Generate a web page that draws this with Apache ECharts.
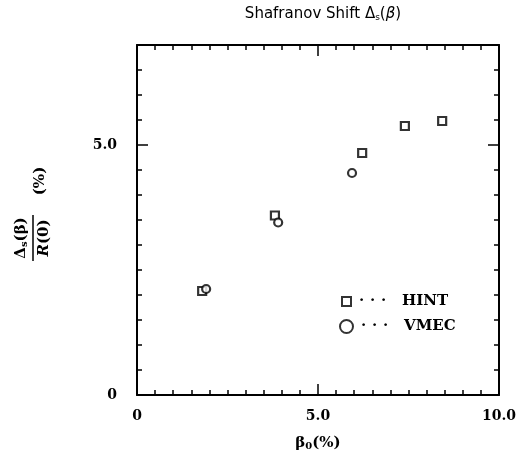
<!DOCTYPE html>
<html><head><meta charset="utf-8">
<script src="https://cdn.jsdelivr.net/npm/echarts@6/dist/echarts.min.js"></script>
<style>html,body{margin:0;padding:0;background:#fff}#c{width:527px;height:457px}</style>
</head><body><div id="c"></div>
<script>
// Data
const hintBeta  = [1.80, 3.81, 6.22, 7.40, 8.43];
const hintShift = [2.08, 3.59, 4.84, 5.38, 5.48];
const vmecBeta  = [1.91, 3.90, 5.94];
const vmecShift = [2.12, 3.45, 4.44];
const xTickLabels = {0: '0', 5: '5.0', 10: '10.0'};
const yTickLabels = {0: '0', 5: '5.0'};

const SERIF = "'DejaVu Serif', 'Liberation Serif', serif";
const SANS = "'DejaVu Sans', 'Liberation Sans', sans-serif";

function xAx(pos, showLabel) {
  return {
    type: 'value', min: 0, max: 10, interval: 5, position: pos,
    axisLine: {show: true, onZero: false, lineStyle: {color: '#000', width: 2}},
    axisTick: {show: true, inside: true, length: 11, lineStyle: {color: '#000', width: 1.5}},
    minorTick: {show: true, splitNumber: 10, length: 5, lineStyle: {color: '#000', width: 1.5}},
    axisLabel: {show: showLabel, margin: 14, fontFamily: SERIF, fontWeight: 'bold', fontSize: 14, color: '#000',
      formatter: v => (xTickLabels[v] !== undefined ? xTickLabels[v] : '')},
    splitLine: {show: false}, minorSplitLine: {show: false},
    name: showLabel ? '{b|β}{s|0}{b|(%)}' : '', nameLocation: 'middle', nameGap: 40,
    nameTextStyle: {rich: {
      b: {fontFamily: SERIF, fontWeight: 'bold', fontSize: 15, color: '#000'},
      s: {fontFamily: SERIF, fontWeight: 'bold', fontSize: 10, color: '#000', verticalAlign: 'bottom', padding: [6, 0, 0, 0]}
    }}
  };
}
function yAx(pos, major, showLabel) {
  return {
    type: 'value', min: 0, max: 7, interval: major ? 5 : 0.5, position: pos,
    axisLine: {show: !major, onZero: false, lineStyle: {color: '#000', width: 2}},
    axisTick: {show: true, inside: true, length: major ? 11 : 5, lineStyle: {color: '#000', width: 1.5}},
    axisLabel: {show: showLabel, margin: 20, fontFamily: SERIF, fontWeight: 'bold', fontSize: 14, color: '#000',
      formatter: v => (yTickLabels[v] !== undefined ? yTickLabels[v] : '')},
    splitLine: {show: false}
  };
}

const chart = echarts.init(document.getElementById('c'), null, {renderer: 'canvas'});
const hintData = hintBeta.map((b, i) => [b, hintShift[i]]);
const vmecData = vmecBeta.map((b, i) => [b, vmecShift[i]]);

const legendRich = {
  d: {fontFamily: SERIF, fontWeight: 'bold', fontSize: 15, color: '#000', width: 11, align: 'center', lineHeight: 16},
  g: {width: 13},
  t: {fontFamily: SERIF, fontWeight: 'bold', fontSize: 15, color: '#000', lineHeight: 16}
};

chart.setOption({
  animation: false,
  backgroundColor: '#fff',
  title: {
    text: '{a|Shafranov Shift Δ}{s|s}{a|(}{i|β}{a|)}',
    left: 318, top: 1, textAlign: 'center',
    textStyle: {fontWeight: 'normal', rich: {
      a: {fontFamily: SANS, fontSize: 15, fontWeight: 'normal', color: '#000'},
      i: {fontFamily: SANS, fontSize: 15, fontWeight: 'normal', fontStyle: 'italic', color: '#000'},
      s: {fontFamily: SANS, fontSize: 9, fontWeight: 'normal', color: '#000', verticalAlign: 'bottom', padding: [7, 0, 0, 0]}
    }}
  },
  grid: {left: 137, right: 28, top: 45, bottom: 62, containLabel: false},
  xAxis: [xAx('bottom', true), xAx('top', false)],
  yAxis: [yAx('left', false, false), yAx('left', true, true), yAx('right', false, false), yAx('right', true, false)],
  legend: [
    {data: [{name: 'HINT', icon: 'rect', itemStyle: {color: '#fff', borderColor: '#000', borderWidth: 2}}],
     left: 341, top: 294, padding: 0, itemWidth: 9, itemHeight: 9, selectedMode: false,
     formatter: '{d|·}{d|·}{d|·}{g|}{t|HINT}', textStyle: {rich: legendRich}},
    {data: [{name: 'VMEC', icon: 'circle', itemStyle: {color: '#fff', borderColor: '#000', borderWidth: 2}}],
     left: 339, top: 319, padding: 0, itemWidth: 13, itemHeight: 13, selectedMode: false,
     formatter: '{d|·}{d|·}{d|·}{g|}{t|VMEC}', textStyle: {rich: legendRich}}
  ],
  series: [
    {name: 'HINT', type: 'scatter', xAxisIndex: 0, yAxisIndex: 0, data: hintData,
     symbol: 'rect', symbolSize: 8, itemStyle: {color: '#fff', borderColor: '#000', borderWidth: 2.2}},
    {name: 'VMEC', type: 'scatter', xAxisIndex: 0, yAxisIndex: 0, data: vmecData,
     symbol: 'circle', symbolSize: 8, itemStyle: {color: '#fff', borderColor: '#000', borderWidth: 2.2}}
  ],
  graphic: [{
    type: 'group', x: 33, y: 238, rotation: Math.PI / 2,
    children: [
      {type: 'text', x: 0, y: -12, style: {
        text: '{a|Δ}{s|s}{a|(β)}', align: 'center', verticalAlign: 'middle',
        rich: {
          a: {fontFamily: SERIF, fontWeight: 'bold', fontSize: 15, fill: '#000'},
          s: {fontFamily: SERIF, fontWeight: 'bold', fontSize: 10, fill: '#000', verticalAlign: 'bottom', padding: [6, 0, 0, 0]}
        }}},
      {type: 'line', shape: {x1: -23, y1: 0, x2: 23, y2: 0}, style: {stroke: '#000', lineWidth: 1.5}},
      {type: 'text', x: 0, y: 11, style: {
        text: '{i|R}{a|(0)}', align: 'center', verticalAlign: 'middle',
        rich: {
          a: {fontFamily: SERIF, fontWeight: 'bold', fontSize: 15, fill: '#000'},
          i: {fontFamily: SERIF, fontWeight: 'bold', fontStyle: 'italic', fontSize: 15, fill: '#000'}
        }}},
      {type: 'text', x: 57, y: 7, style: {
        text: '(%)', align: 'center', verticalAlign: 'middle',
        fontFamily: SERIF, fontWeight: 'bold', fontSize: 15, fill: '#000'}}
    ]
  }]
});
</script></body></html>
